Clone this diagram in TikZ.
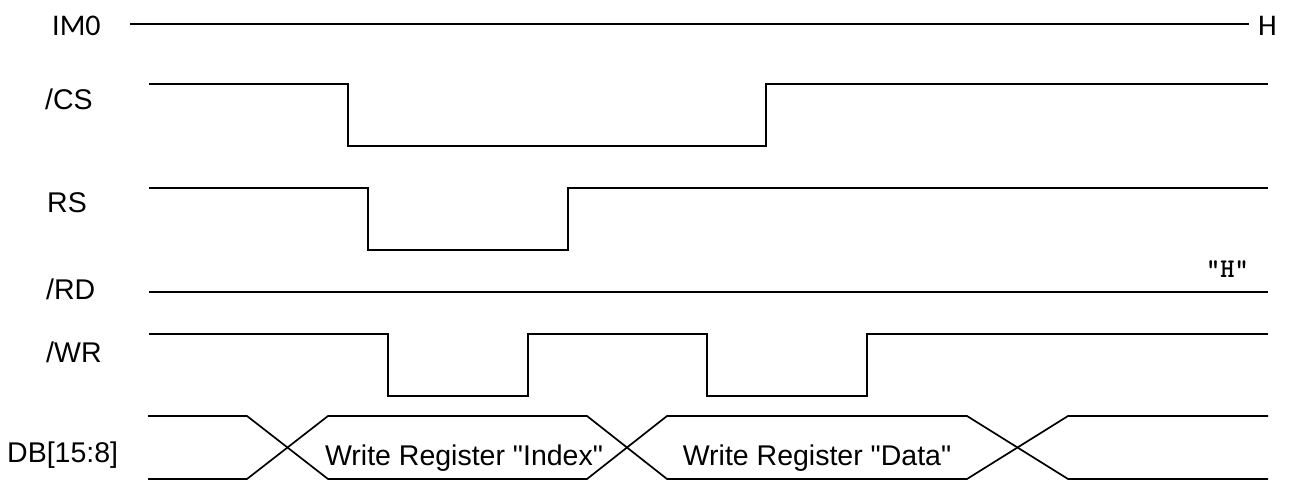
\documentclass[tikz,border=0pt]{standalone}
\usepackage{fontspec}
\newfontfamily\arialfont{Liberation Sans}
\newfontfamily\calfont{Carlito}
\usetikzlibrary{arrows.meta}

\begin{document}
\begin{tikzpicture}[x=1pt,y=-1pt]

% Stili per segnali e nomi
\tikzset{segnale/.style={line width=1.7pt, line join=miter},
  nome/.style={anchor=base west, inner sep=0pt, font=\arialfont\fontsize{28.5}{32}\selectfont}}

\useasboundingbox (0,0) rectangle (1290,481);

% --- Riga IM0 ---
\node[nome, font=\calfont\fontsize{30}{34}\selectfont] (im0) at (52,36) {IM0};
\node[nome, font=\calfont\fontsize{30}{34}\selectfont] (hlev) at (1258,36) {H};
\draw[segnale] (130,24) -- (1249,24);

% --- Nomi dei segnali ---
\node[nome] (cs) at (45,110) {/CS};
\node[nome] (rs) at (47,213) {RS};
\node[nome] (rd) at (46,299) {/RD};
\node[nome] (wr) at (46,362) {/WR};
\node[nome] (db) at (7,462) {DB[15:8]};

% Livello fisso di /RD
\node[anchor=base west, inner sep=0pt, font=\ttfamily\bfseries\fontsize{27}{30}\selectfont] (rdh) at (1206,277) {"H"};

% --- Forme d'onda ---
\draw[segnale] (149,84) -- (348,84) -- (348,146) -- (766,146) -- (766,84) -- (1268,84);
\draw[segnale] (149,188) -- (368,188) -- (368,250) -- (568,250) -- (568,188) -- (1268,188);
\draw[segnale] (149,292) -- (1268,292);
\draw[segnale] (149,334) -- (388,334) -- (388,396) -- (528,396) -- (528,334)
  -- (707,334) -- (707,396) -- (867,396) -- (867,334) -- (1268,334);

% Bus dati
\draw[segnale] (148,416) -- (247,416) -- (328,479) -- (587,479) -- (667,416)
  -- (967,416) -- (1068,479) -- (1268,479);
\draw[segnale] (148,479) -- (247,479) -- (328,416) -- (587,416) -- (667,479)
  -- (967,479) -- (1068,416) -- (1268,416);

% Contenuto del bus
\node[nome, anchor=base] (idx) at (464,465) {Write Register "Index"};
\node[nome, anchor=base] (dat) at (817,465) {Write Register "Data"};

\end{tikzpicture}
\end{document}
